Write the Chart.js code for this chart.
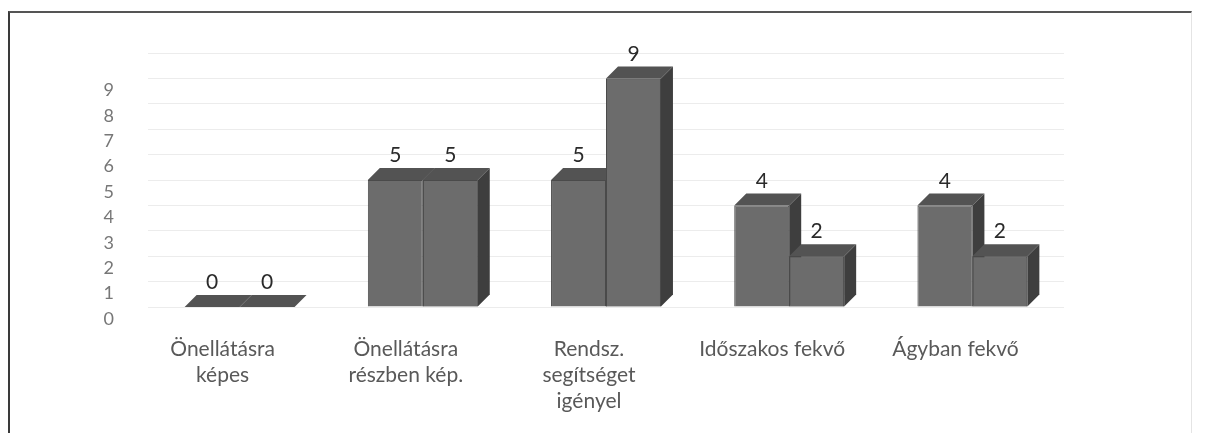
<!DOCTYPE html>
<html>
<head>
<meta charset="utf-8">
<script src="https://cdn.jsdelivr.net/npm/chart.js@4.4.0/dist/chart.umd.min.js"></script>
<style>
  html, body { margin: 0; padding: 0; background: #fff; }
  #frame {
    position: absolute; left: 8px; top: 11px; width: 1181px; height: 440px;
    border-left: 2px solid #3a3a3a; border-top: 2px solid #555; border-right: 1px solid #e4e4e4;
  }
  #wrap { position: absolute; left: 0; top: 0; width: 1209px; height: 433px; }
</style>
</head>
<body>
<div id="frame"></div>
<div id="wrap"><canvas id="bar-chart"></canvas></div>
<script>
//********************
//DATA
//********************
var categories = [
  ["Önellátásra", "képes"],
  ["Önellátásra", "részben kép."],
  ["Rendsz.", "segítséget", "igényel"],
  ["Időszakos fekvő"],
  ["Ágyban fekvő"]
];
var seriesA = [0, 5, 5, 4, 4];
var seriesB = [0, 5, 9, 2, 2];
var yTickValues = [0, 1, 2, 3, 4, 5, 6, 7, 8, 9];

var DEPTH = 12;

function drawFaces(ctx, bar) {
  var p = bar.getProps(['x', 'y', 'base', 'width'], true);
  var l = p.x - p.width / 2, r = p.x + p.width / 2;
  // side face
  ctx.fillStyle = '#3e3e3e';
  ctx.beginPath();
  ctx.moveTo(r, p.y); ctx.lineTo(r + DEPTH, p.y - DEPTH);
  ctx.lineTo(r + DEPTH, p.base - DEPTH); ctx.lineTo(r, p.base);
  ctx.closePath(); ctx.fill();
  // top face
  ctx.fillStyle = '#535353';
  ctx.beginPath();
  ctx.moveTo(l, p.y); ctx.lineTo(l + DEPTH, p.y - DEPTH);
  ctx.lineTo(r + DEPTH, p.y - DEPTH); ctx.lineTo(r, p.y);
  ctx.closePath(); ctx.fill();
}

//******3D FACES + VALUE LABELS********
var bars3d = {
  id: 'bars3d',
  afterDatasetsDraw: function(chart) {
    var ctx = chart.ctx;
    var metaA = chart.getDatasetMeta(0), metaB = chart.getDatasetMeta(1);
    ctx.save();
    for (var j = 0; j < metaA.data.length; j++) {
      drawFaces(ctx, metaA.data[j]);
      metaB.data[j].draw(ctx);   // front of the right bar sits over the left bar's side
      drawFaces(ctx, metaB.data[j]);
    }
    ctx.restore();
  },
  afterDraw: function(chart) {
    var ctx = chart.ctx;
    ctx.save();
    ctx.font = '21px Lato';
    ctx.fillStyle = '#2a2a2a';
    ctx.textAlign = 'center';
    ctx.textBaseline = 'bottom';
    chart.data.datasets.forEach(function(ds, i) {
      chart.getDatasetMeta(i).data.forEach(function(bar, j) {
        var p = bar.getProps(['x', 'y'], true);
        ctx.fillText(String(ds.data[j]), p.x, p.y - DEPTH - 2);
      });
    });
    ctx.restore();
  }
};

//****************************************
//BAR CHART
//****************************************
var ctx = document.getElementById("bar-chart");
var barChart = new Chart(ctx, {
  type: 'bar',
  data: {
    labels: categories,
    datasets: [{
      label: 'A',
      data: seriesA,
      backgroundColor: "#6c6c6c",
      borderColor: "#4a4a4a",
      borderWidth: 1
    }, {
      label: 'B',
      data: seriesB,
      backgroundColor: "#6c6c6c",
      borderColor: "#4a4a4a",
      borderWidth: 1
    }]
  },
  options: {
    responsive: true,
    maintainAspectRatio: false,
    animation: false,
    layout: {
      padding: { left: 103, right: 145, top: 53, bottom: 0 }
    },
    datasets: {
      bar: { categoryPercentage: 0.6, barPercentage: 1 }
    },
    plugins: {
      legend: { display: false },
      tooltip: { enabled: false }
    },
    scales: {
      x: {
        grid: { display: false },
        border: { display: false },
        afterFit: function(axis) { axis.height = 126; },
        ticks: {
          color: '#595959',
          font: { family: 'Lato', size: 21, lineHeight: '26px' },
          padding: 21,
          labelOffset: -17,
          maxRotation: 0,
          autoSkip: false
        }
      },
      y: {
        min: 0,
        max: 10,
        grid: { color: '#ececec', drawTicks: false },
        border: { display: false },
        afterFit: function(axis) { axis.width = 45; },
        afterBuildTicks: function(axis) {
          axis.ticks = yTickValues.concat([10]).map(function(v) { return { value: v }; });
        },
        ticks: {
          color: '#777',
          font: { family: 'Lato', size: 18 },
          padding: 34,
          labelOffset: 12,
          callback: function(v) { return yTickValues.indexOf(v) >= 0 ? v : ''; }
        }
      }
    }
  },
  plugins: [bars3d]
});
</script>
</body>
</html>
